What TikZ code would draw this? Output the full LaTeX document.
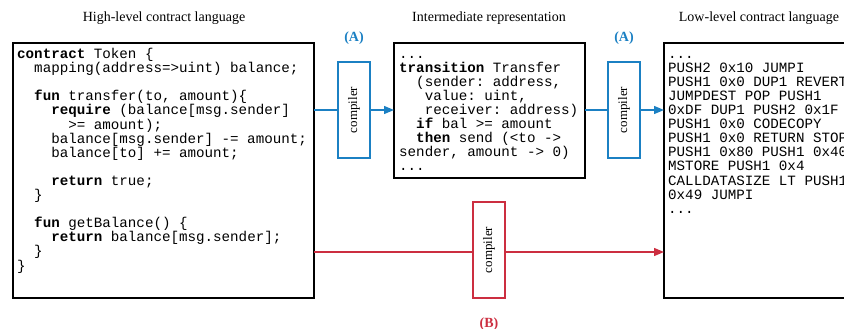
\documentclass[tikz,border=0pt]{standalone}
\usepackage{fontspec}
\setmainfont{Liberation Serif}
\setmonofont{Liberation Mono}
\usetikzlibrary{arrows.meta}
\definecolor{cblue}{RGB}{27,128,195}
\definecolor{cred}{RGB}{204,46,64}
\newcommand{\kw}[1]{\textbf{#1}}
\newcommand{\sL}{\strut}
\newcommand{\codefont}{\ttfamily\fontsize{14.2}{14.1}\selectfont\lineskiplimit-100pt\lineskip0pt\relax}
\tikzset{
  x=1pt, y=-1pt,
  codebox/.style={draw=black, line width=1.6pt},
  codetext/.style={anchor=north west, inner sep=0pt, align=left, font=\codefont},
  title/.style={font=\fontsize{14}{16}\selectfont, anchor=base},
  label/.style={font=\bfseries\fontsize{14}{16}\selectfont, anchor=base},
  compbox/.style={draw, line width=1.3pt, fill=white, minimum width=32pt, minimum height=96pt, inner sep=0pt},
  comptext/.style={rotate=90, font=\fontsize{13}{15}\selectfont},
  conn/.style={line width=1.3pt},
  arr/.style={line width=1.3pt, -{Triangle[length=10pt,width=8pt]}},
}
\begin{document}
\begin{tikzpicture}
\useasboundingbox (0,0) rectangle (844,329);

% titles
\node[title] (t1) at (164,22) {High-level contract language};
\node[title] (t2) at (489,22) {Intermediate representation};
\node[title] (t3) at (759,22) {Low-level contract language};

% boxes
\path[codebox] (13,43) rectangle (314,298);
\coordinate (hlE) at (314,110);
\coordinate (hlR) at (314,252);
\node[codetext] (hltext) at (17,48.1) {%
\sL\kw{contract} Token \{\\
\sL\ \ mapping(address=>uint) balance;\\
\sL\\
\sL\ \ \kw{fun} transfer(to, amount)\{\\
\sL\ \ \ \ \kw{require} (balance[msg.sender]\\
\sL\ \ \ \ \ \ >= amount);\\
\sL\ \ \ \ balance[msg.sender] -= amount;\\
\sL\ \ \ \ balance[to] += amount;\\
\sL\\
\sL\ \ \ \ \kw{return} true;\\
\sL\ \ \}\\
\sL\\
\sL\ \ \kw{fun} getBalance() \{\\
\sL\ \ \ \ \kw{return} balance[msg.sender];\\
\sL\ \ \}\\
\sL\}};

\path[codebox] (394,43) rectangle (585,178);
\coordinate (irW) at (394,110);
\coordinate (irE) at (585,110);
\node[codetext] (irtext) at (399,48.1) {%
\sL...\\
\sL\kw{transition} Transfer\\
\sL\ \ (sender: address,\\
\sL\ \ \ value: uint,\\
\sL\ \ \ receiver: address)\\
\sL\ \ \kw{if} bal >= amount\\
\sL\ \ \kw{then} send (<to ->\\
\sL sender, amount -> 0)\\
\sL...};

\begin{scope}
\clip (0,0) rectangle (844,329);
\path[codebox] (664,43) rectangle (870,298);
\node[codetext] (lltext) at (668,48.1) {%
\sL...\\
\sL PUSH2 0x10 JUMPI\\
\sL PUSH1 0x0 DUP1 REVERT\\
\sL JUMPDEST POP PUSH1\\
\sL 0xDF DUP1 PUSH2 0x1F\\
\sL PUSH1 0x0 CODECOPY\\
\sL PUSH1 0x0 RETURN STOP\\
\sL PUSH1 0x80 PUSH1 0x40\\
\sL MSTORE PUSH1 0x4\\
\sL CALLDATASIZE LT PUSH1\\
\sL 0x49 JUMPI\\
\sL...};
\end{scope}
\coordinate (llA) at (664,110);
\coordinate (llB) at (664,252);

% compilers A
\node[compbox, draw=cblue] (c1) at (354,110) {};
\node[comptext] (c1t) at (c1) {compiler};
\node[label, text=cblue] (a1) at (354,42) {(A)};
\node[compbox, draw=cblue] (c2) at (624,110) {};
\node[comptext] (c2t) at (c2) {compiler};
\node[label, text=cblue] (a2) at (624,42) {(A)};

% compiler B
\node[compbox, draw=cred] (c3) at (489,250) {};
\node[comptext] (c3t) at (c3) {compiler};
\node[label, text=cred] (b1) at (489,327) {(B)};

% connectors
\draw[conn, cblue] (hlE) -- (c1.west);
\draw[arr, cblue] (c1.east) -- (irW);
\draw[conn, cblue] (irE) -- (c2.west);
\draw[arr, cblue] (c2.east) -- (llA);
\draw[conn, cred] (hlR) -- (c3.west |- hlR);
\draw[arr, cred] (c3.east |- hlR) -- (llB);
\end{tikzpicture}
\end{document}
